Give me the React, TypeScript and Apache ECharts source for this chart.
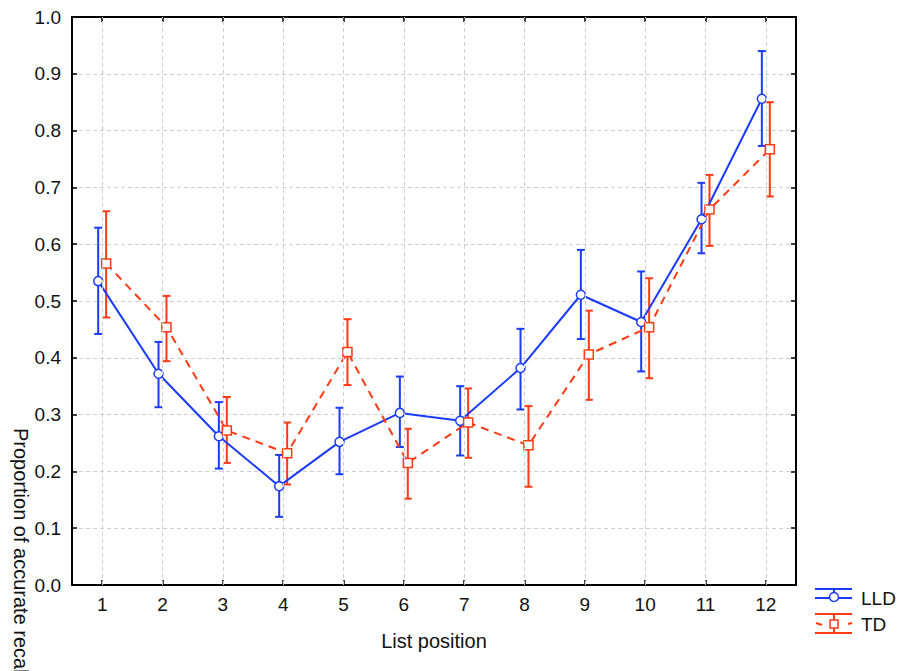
import React, { useEffect, useRef } from "react";
import * as echarts from "echarts";

const categories = ["1", "2", "3", "4", "5", "6", "7", "8", "9", "10", "11", "12"];
const positions = [1, 2, 3, 4, 5, 6, 7, 8, 9, 10, 11, 12];
const lldMean = [0.535, 0.372, 0.262, 0.174, 0.252, 0.303, 0.289, 0.382, 0.511, 0.463, 0.644, 0.856];
const lldLow = [0.442, 0.313, 0.205, 0.12, 0.195, 0.243, 0.228, 0.309, 0.433, 0.376, 0.584, 0.773];
const lldHigh = [0.629, 0.428, 0.322, 0.229, 0.312, 0.367, 0.35, 0.451, 0.59, 0.552, 0.708, 0.94];
const tdMean = [0.566, 0.454, 0.272, 0.232, 0.41, 0.215, 0.286, 0.246, 0.406, 0.454, 0.661, 0.767];
const tdLow = [0.471, 0.394, 0.215, 0.177, 0.352, 0.152, 0.224, 0.173, 0.326, 0.364, 0.597, 0.684];
const tdHigh = [0.658, 0.509, 0.331, 0.286, 0.468, 0.275, 0.346, 0.315, 0.483, 0.54, 0.722, 0.85];

const BLUE = "#1a3bff";
const RED = "#ff3a14";
const FONT = "'Liberation Sans', Arial, sans-serif";

export default function App() {
  const ref = useRef<HTMLDivElement>(null);
  useEffect(() => {
    document.body.style.margin = "0";
    if (!ref.current) return;
    const chart = echarts.init(ref.current, null, { renderer: "svg" });
    const off = 0.066;
    const lldPts = positions.map((p, i) => [p - off, lldMean[i]]);
    const tdPts = positions.map((p, i) => [p + off, tdMean[i]]);
    const lldErr = positions.map((p, i) => [p - off, lldLow[i], lldHigh[i]]);
    const tdErr = positions.map((p, i) => [p + off, tdLow[i], tdHigh[i]]);
    const errRender = (color: string) => (params: any, api: any) => {
      const x = api.value(0);
      const lo = api.coord([x, api.value(1)]);
      const hi = api.coord([x, api.value(2)]);
      const hw = 4;
      const st = { stroke: color, lineWidth: 2 };
      return {
        type: "group",
        children: [
          { type: "line", shape: { x1: lo[0], y1: lo[1], x2: hi[0], y2: hi[1] }, style: st },
          { type: "line", shape: { x1: lo[0] - hw, y1: lo[1], x2: lo[0] + hw, y2: lo[1] }, style: st },
          { type: "line", shape: { x1: hi[0] - hw, y1: hi[1], x2: hi[0] + hw, y2: hi[1] }, style: st },
        ],
      };
    };
    const axisLine = { show: true, onZero: false, lineStyle: { color: "#000", width: 2 } };
    const tick = { show: true, inside: true, length: 5, lineStyle: { color: "#000", width: 1.5 } };
    const option: any = {
      animation: false,
      textStyle: { fontFamily: FONT },
      grid: { left: 72, top: 17, right: 108, bottom: 86, containLabel: false },
      xAxis: [
        {
          type: "category",
          data: categories,
          position: "bottom",
          boundaryGap: true,
          axisLine,
          axisTick: { ...tick, alignWithLabel: true },
          axisLabel: { color: "#111", fontSize: 19, margin: 10, fontFamily: FONT },
          splitLine: { show: false },
          name: "List position",
          nameLocation: "middle",
          nameGap: 46,
          nameTextStyle: { color: "#111", fontSize: 20, fontFamily: FONT },
        },
        {
          type: "category",
          data: categories,
          position: "top",
          boundaryGap: true,
          axisLine,
          axisTick: { ...tick, alignWithLabel: true },
          axisLabel: { show: false },
          splitLine: { show: false },
        },
        { type: "value", min: 0.5, max: 12.5, show: false, splitLine: { show: false } },
      ],
      yAxis: [
        {
          type: "value",
          min: 0,
          max: 1,
          interval: 0.1,
          position: "left",
          axisLine,
          axisTick: tick,
          axisLabel: {
            color: "#111",
            fontSize: 19,
            margin: 11,
            fontFamily: FONT,
            formatter: (v: number) => v.toFixed(1),
          },
          splitLine: { show: true, lineStyle: { color: "#cfcfcf", type: [4, 3], width: 1 } },
        },
        {
          type: "value",
          min: 0,
          max: 1,
          interval: 0.1,
          position: "right",
          axisLine,
          axisTick: tick,
          axisLabel: { show: false },
          splitLine: { show: false },
        },
      ],
      series: [
        {
          type: "line",
          name: "grid",
          xAxisIndex: 2,
          yAxisIndex: 0,
          data: [],
          silent: true,
          markLine: {
            silent: true,
            symbol: "none",
            label: { show: false },
            lineStyle: { color: "#cfcfcf", type: [4, 3], width: 1 },
            data: positions.map((p) => ({ xAxis: p })),
          },
          z: 1,
        },
        {
          type: "custom",
          name: "LLD err",
          xAxisIndex: 2,
          yAxisIndex: 0,
          data: lldErr,
          encode: { x: 0, y: [1, 2] },
          renderItem: errRender(BLUE),
          z: 3,
        },
        {
          type: "custom",
          name: "TD err",
          xAxisIndex: 2,
          yAxisIndex: 0,
          data: tdErr,
          encode: { x: 0, y: [1, 2] },
          renderItem: errRender(RED),
          z: 3,
        },
        {
          type: "line",
          name: "LLD",
          xAxisIndex: 2,
          yAxisIndex: 0,
          data: lldPts,
          lineStyle: { color: BLUE, width: 2 },
          symbol: "circle",
          symbolSize: 9,
          itemStyle: { color: "#fff", borderColor: BLUE, borderWidth: 1.5 },
          z: 4,
        },
        {
          type: "line",
          name: "TD",
          xAxisIndex: 2,
          yAxisIndex: 0,
          data: tdPts,
          lineStyle: { color: RED, width: 2, type: [8, 6] },
          symbol: "rect",
          symbolSize: 9,
          itemStyle: { color: "#fff", borderColor: RED, borderWidth: 1.5 },
          z: 4,
        },
      ],
      graphic: [
        {
          type: "text",
          x: 21,
          y: 428,
          rotation: -Math.PI / 2,
          style: {
            text: "Proportion of accurate recall",
            fill: "#111",
            font: `20px ${FONT}`,
            textAlign: "left",
            textVerticalAlign: "middle",
          },
        },
        {
          type: "group",
          children: [
            { type: "line", shape: { x1: 815, y1: 589, x2: 852, y2: 589 }, style: { stroke: BLUE, lineWidth: 2 } },
            { type: "line", shape: { x1: 815, y1: 598, x2: 852, y2: 598 }, style: { stroke: BLUE, lineWidth: 2 } },
            { type: "line", shape: { x1: 834, y1: 589, x2: 834, y2: 601 }, style: { stroke: BLUE, lineWidth: 2 } },
            { type: "circle", shape: { cx: 834, cy: 597, r: 4.5 }, style: { fill: "#fff", stroke: BLUE, lineWidth: 1.5 } },
            { type: "text", x: 861, y: 598, style: { text: "LLD", fill: "#111", font: `19px ${FONT}`, textVerticalAlign: "middle" } },
            { type: "line", shape: { x1: 815, y1: 614, x2: 852, y2: 614 }, style: { stroke: RED, lineWidth: 2 } },
            { type: "line", shape: { x1: 815, y1: 633, x2: 852, y2: 633 }, style: { stroke: RED, lineWidth: 2 } },
            { type: "line", shape: { x1: 834, y1: 614, x2: 834, y2: 633 }, style: { stroke: RED, lineWidth: 2 } },
            { type: "line", shape: { x1: 816, y1: 623, x2: 822, y2: 625 }, style: { stroke: RED, lineWidth: 2 } },
            { type: "line", shape: { x1: 848, y1: 624, x2: 852, y2: 623 }, style: { stroke: RED, lineWidth: 2 } },
            { type: "rect", shape: { x: 830, y: 620, width: 8, height: 8 }, style: { fill: "#fff", stroke: RED, lineWidth: 1.5 } },
            { type: "text", x: 861, y: 624, style: { text: "TD", fill: "#111", font: `19px ${FONT}`, textVerticalAlign: "middle" } },
          ],
        },
      ],
    };
    chart.setOption(option);
    return () => chart.dispose();
  }, []);
  return <div ref={ref} style={{ width: 904, height: 671 }} />;
}
